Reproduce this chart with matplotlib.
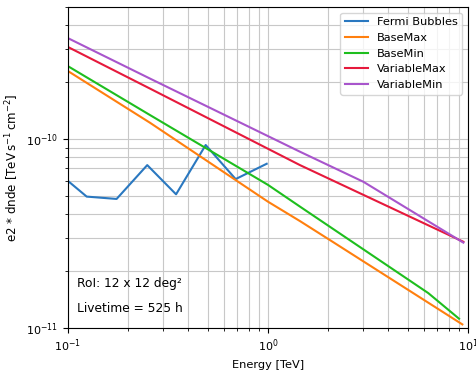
import matplotlib

matplotlib.use("Agg")

import matplotlib.pyplot as plt

# values (energy in TeV, e2 * dnde in TeV s^-1 cm^-2)
fermi_e = [0.1, 0.124, 0.175, 0.249, 0.347, 0.488, 0.689, 0.985]
fermi_v = [6.0e-11, 4.96e-11, 4.82e-11, 7.28e-11, 5.1e-11, 9.3e-11, 6.14e-11, 7.4e-11]

basemax_e = [0.1, 0.257, 1.0, 1.445, 2.04, 9.37]
basemax_v = [2.29e-10, 1.22e-10, 4.66e-11, 3.68e-11, 2.92e-11, 1.045e-11]

basemin_e = [0.1, 0.257, 1.0, 1.445, 6.33, 9.02]
basemin_v = [2.43e-10, 1.34e-10, 5.72e-11, 4.39e-11, 1.53e-11, 1.12e-11]

varmax_e = [0.1, 0.257, 1.445, 9.48]
varmax_v = [3.07e-10, 1.85e-10, 7.28e-11, 2.86e-11]

varmin_e = [0.1, 0.257, 1.445, 3.0, 9.48]
varmin_v = [3.42e-10, 2.09e-10, 8.57e-11, 5.94e-11, 2.83e-11]

series = [
    ("Fermi Bubbles", fermi_e, fermi_v, "#2a78c0"),
    ("BaseMax", basemax_e, basemax_v, "#ff7f0e"),
    ("BaseMin", basemin_e, basemin_v, "#1ebe1e"),
    ("VariableMax", varmax_e, varmax_v, "#e6193c"),
    ("VariableMin", varmin_e, varmin_v, "#a855cc"),
]

fig = plt.figure(figsize=(4.77, 3.71), dpi=100)
ax = fig.add_axes([68 / 477, 1 - 328 / 371, 400 / 477, 321 / 371])

for name, e, v, color in series:
    ax.plot(e, v, color=color, linewidth=1.5, label=name)

ax.set_xscale("log")
ax.set_yscale("log")
ax.set_xlim(0.1, 10)
ax.set_ylim(1e-11, 5e-10)
ax.grid(True, which="both", color="#c8c8c8", linewidth=0.8)
ax.set_axisbelow(True)

ax.set_xlabel("Energy [TeV]", fontsize=8.2)
ax.set_ylabel(r"e2 * dnde [TeV$\,$s$^{-1}\,$cm$^{-2}$]", fontsize=8.6)
ax.tick_params(labelsize=8)

ax.legend(loc="upper right", fontsize=8.2, framealpha=0.8)

ax.text(0.022, 0.14, "RoI: 12 x 12 deg²", transform=ax.transAxes,
        va="center", ha="left", fontsize=8.8)
ax.text(0.022, 0.062, "Livetime = 525 h", transform=ax.transAxes,
        va="center", ha="left", fontsize=8.8)

fig.savefig("out.png", dpi=100)
